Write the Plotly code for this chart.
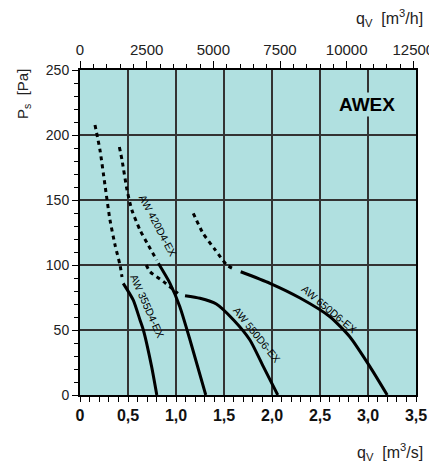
import math
import plotly.graph_objects as go

# ---- data (q in m3/s, p in Pa) ----
c355_dash_q = [0.156, 0.208, 0.26, 0.3125, 0.365, 0.4167, 0.4375]
c355_dash_p = [207.7, 188.5, 161.5, 134.6, 115.4, 100.0, 90.8]
c355_solid_q = [0.45, 0.555, 0.625, 0.66, 0.746, 0.80]
c355_solid_p = [85.9, 73.0, 57.7, 50.0, 21.8, 0.0]

c420_dash_q = [0.41, 0.4375, 0.49, 0.54, 0.625, 0.71, 0.80]
c420_dash_p = [190.8, 180.8, 157.7, 142.3, 126.9, 115.4, 103.8]
c420_solid_q = [0.816, 0.9375, 1.04, 1.146, 1.31]
c420_solid_p = [101.3, 85.9, 67.9, 42.3, 0.0]

c550_dash_q = [0.69, 0.73, 0.87, 1.02]
c550_dash_p = [100.0, 94.8, 87.2, 78.2]
c550_solid_q = [1.094, 1.25, 1.42, 1.60, 1.77, 1.91, 2.06]
c550_solid_p = [76.4, 74.4, 70.0, 57.7, 42.3, 21.8, 0.0]

c650_dash_q = [1.18, 1.28, 1.41, 1.53, 1.60]
c650_dash_p = [139.7, 124.6, 111.5, 100.0, 97.0]
c650_solid_q = [1.674, 1.979, 2.292, 2.604, 2.81, 3.02, 3.20]
c650_solid_p = [94.8, 85.9, 74.6, 60.2, 44.8, 21.8, 0.0]

labels = ["AW 355D4-EX", "AW 420D4-EX", "AW 550D6-EX", "AW 650D6-EX"]
label_q = [0.677, 0.781, 1.823, 2.576]
label_p = [67.9, 129.5, 44.8, 64.1]
label_angle = [66, 62, 51, 40]

x_tickvals = [0, 0.5, 1.0, 1.5, 2.0, 2.5, 3.0, 3.5]
x_ticktext = ["0", "0,5", "1,0", "1,5", "2,0", "2,5", "3,0", "3,5"]
x2_tickvals = [0, 2500, 5000, 7500, 10000, 12500]
x2_ticktext = ["0", "2500", "5000", "7500", "10000", "12500"]
y_tickvals = [0, 50, 100, 150, 200, 250]

BG = "#b0e0e0"
FONT = "Liberation Sans, Arial"
fig = go.Figure()

dash_style = dict(color="black", width=3, dash="4px,4px")
solid_style = dict(color="black", width=3)
for dq, dp, sq, sp in [
    (c355_dash_q, c355_dash_p, c355_solid_q, c355_solid_p),
    (c420_dash_q, c420_dash_p, c420_solid_q, c420_solid_p),
    (c550_dash_q, c550_dash_p, c550_solid_q, c550_solid_p),
    (c650_dash_q, c650_dash_p, c650_solid_q, c650_solid_p),
]:
    fig.add_trace(go.Scatter(x=dq, y=dp, mode="lines", line=dict(dash_style, shape="spline", smoothing=0.6),
                             showlegend=False, hoverinfo="skip"))
    fig.add_trace(go.Scatter(x=sq, y=sp, mode="lines", line=dict(solid_style, shape="spline", smoothing=0.6),
                             showlegend=False, hoverinfo="skip"))

# invisible trace to activate the top axis
fig.add_trace(go.Scatter(x=[0, 12600], y=[None, None], xaxis="x2", mode="lines",
                         showlegend=False, hoverinfo="skip"))

OFF = 3  # px offset of the curve labels away from the curve
for t, q, p, a in zip(labels, label_q, label_p, label_angle):
    r = math.radians(a)
    fig.add_annotation(x=q, y=p, text=t, textangle=a, showarrow=False,
                       xshift=OFF * math.sin(r), yshift=OFF * math.cos(r),
                       font=dict(family=FONT, size=10.5, color="black"))

fig.add_annotation(x=2.99, y=223.5, text="<b>AWEX</b>", showarrow=False,
                   bgcolor=BG, font=dict(family=FONT, size=19, color="black"))

fig.add_annotation(xref="paper", yref="paper", x=1.027, y=-0.175, xanchor="right", yanchor="middle",
                   text="q<sub>V</sub>  [m<sup>3</sup>/s]", showarrow=False,
                   font=dict(family=FONT, size=16, color="#222"))
fig.add_annotation(xref="paper", yref="paper", x=1.027, y=1.16, xanchor="right", yanchor="middle",
                   text="q<sub>V</sub>  [m<sup>3</sup>/h]", showarrow=False,
                   font=dict(family=FONT, size=16, color="#222"))
fig.add_annotation(xref="paper", yref="paper", x=-0.17, y=0.926, xanchor="center", yanchor="middle",
                   text="P<sub>s</sub>  [Pa]", textangle=-90, showarrow=False,
                   font=dict(family=FONT, size=15, color="#222"))

# the page body has an 8px default margin; size the figure so the plot area lands on the reference
fig.update_layout(
    width=429, height=454,
    margin=dict(l=72, r=21, t=62, b=67, autoexpand=False),
    paper_bgcolor="white", plot_bgcolor=BG,
    showlegend=False,
    xaxis=dict(range=[0, 3.5], tickvals=x_tickvals, ticktext=x_ticktext, automargin=False,
               ticks="outside", ticklen=5, tickwidth=1, tickcolor="black",
               showline=True, linecolor="black", linewidth=2, mirror=True,
               showgrid=True, gridcolor="#333", gridwidth=1.5, zeroline=False,
               tickfont=dict(family=FONT, size=16, color="#111", weight="bold"),
               minor=dict(dtick=0.1, ticks="outside", ticklen=5, tickcolor="black", showgrid=False)),
    xaxis2=dict(range=[0, 12600], overlaying="x", side="top", anchor="y", automargin=False,
                tickvals=x2_tickvals, ticktext=x2_ticktext,
                ticks="outside", ticklen=7, tickwidth=1, tickcolor="black",
                showline=True, linecolor="black", linewidth=2, showgrid=False, zeroline=False,
                tickfont=dict(family=FONT, size=15, color="#222"),
                minor=dict(dtick=500, ticks="outside", ticklen=4, tickcolor="black", showgrid=False)),
    yaxis=dict(range=[0, 250], tickvals=y_tickvals, automargin=False,
               ticks="outside", ticklen=6, tickwidth=1, tickcolor="black",
               showline=True, linecolor="black", linewidth=2, mirror=True,
               showgrid=True, gridcolor="#333", gridwidth=1.5, zeroline=False,
               tickfont=dict(family=FONT, size=14, color="#222"),
               minor=dict(dtick=10, ticks="outside", ticklen=4, tickcolor="black", showgrid=False)),
)

fig.write_html("out.html")
